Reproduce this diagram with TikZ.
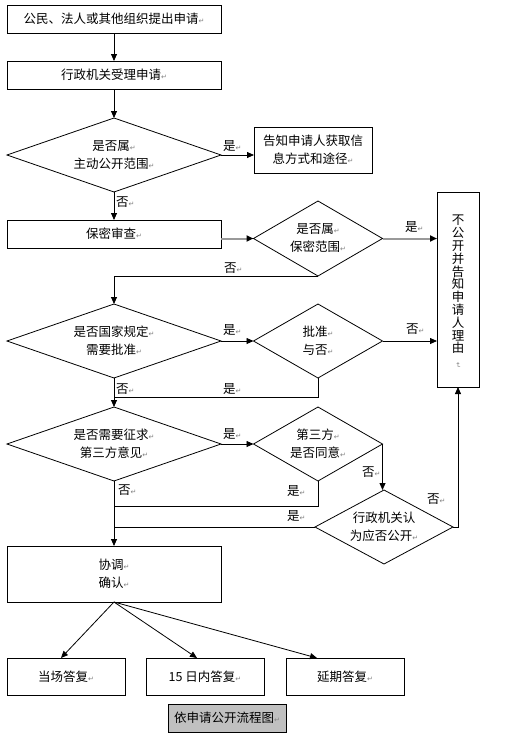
\documentclass[tikz,border=0pt]{standalone}
\usepackage{fontspec}
\setmainfont{Noto Sans CJK SC}
\newfontfamily\djv{DejaVu Sans}
\usetikzlibrary{arrows.meta,shapes.geometric,calc}
\definecolor{capgray}{RGB}{192,192,192}
\newcommand\pmk{{\djv\fontsize{7}{7}\selectfont\textcolor{gray}{↵}}}
\begin{document}
\begin{tikzpicture}[x=1pt,y=-1pt,
  every node/.style={font=\fontsize{12.5}{18}\selectfont, inner sep=0pt, outer sep=0pt},
  box/.style={draw, line width=0.8pt, rectangle, align=center},
  dia/.style={draw, line width=0.8pt, diamond, align=center},
  lbl/.style={anchor=west},
  ln/.style={line width=0.8pt},
  arr/.style={line width=0.8pt, -{Triangle[length=7pt,width=6pt]}},
  garr/.style={line width=2pt, draw=gray!80, -{Triangle[length=7pt,width=6pt,color=black]}}]
\useasboundingbox (0,0) rectangle (509,737);

% boxes
\node[box, minimum width=214pt, minimum height=28pt] (b1) at (114,19) {公民、法人或其他组织提出申请\pmk};
\node[box, minimum width=214pt, minimum height=28pt] (b2) at (114,75) {行政机关受理申请\pmk};
\node[dia, minimum width=214pt, minimum height=74pt, aspect=2.9] (d1) at (114,155) {是否属\pmk\\主动公开范围\pmk};
\node[box, minimum width=118pt, minimum height=46pt] (inf) at (313,150) {告知申请人获取信\\息方式和途径\pmk};
\node[box, minimum width=214pt, minimum height=28pt] (b3) at (114,234) {保密审查\pmk};
\node[dia, minimum width=129pt, minimum height=75pt, aspect=1.74] (d2) at (318,238.5) {是否属\pmk\\保密范围\pmk};
\node[box, minimum width=42pt, minimum height=195pt] (rb) at (458,289.5) {};
\node[font=\fontsize{12.5}{12.8}\selectfont, align=center] (rbt) at (458,292)
  {不\\公\\开\\并\\告\\知\\申\\请\\人\\理\\由\\[-3pt]\rotatebox{-90}{\pmk}};
\node[dia, minimum width=214pt, minimum height=74pt, aspect=2.9] (d3) at (114,341) {是否国家规定\pmk\\需要批准\pmk};
\node[dia, minimum width=129pt, minimum height=74pt, aspect=1.74] (d4) at (318,341) {批准\pmk\\与否\pmk};
\node[dia, minimum width=214pt, minimum height=74pt, aspect=2.9] (d5) at (114,444) {是否需要征求\pmk\\第三方意见\pmk};
\node[dia, minimum width=129pt, minimum height=74pt, aspect=1.74] (d6) at (318,444) {第三方\pmk\\是否同意\pmk};
\node[dia, minimum width=138pt, minimum height=74pt, aspect=1.86] (d7) at (384,527) {行政机关认\\为应否公开\pmk};
\node[box, minimum width=214pt, minimum height=56pt] (b4) at (114,574) {协调\pmk\\确认\pmk};
\node[box, minimum width=118pt, minimum height=37pt] (r1) at (66,676.5) {当场答复\pmk};
\node[box, minimum width=118pt, minimum height=37pt] (r2) at (205,676.5) {15 日内答复\pmk};
\node[box, minimum width=118pt, minimum height=37pt] (r3) at (345,676.5) {延期答复\pmk};
\node[box, fill=capgray, minimum width=118pt, minimum height=28pt] (cap) at (227,718) {依申请公开流程图\pmk};

% junction points
\coordinate (j1) at (114,397);
\coordinate (j2) at (114,506);
\coordinate (j3) at (114,527);

% connectors
\draw[arr] (b1.south) -- (b2.north);
\draw[arr] (b2.south) -- (d1.north);
\draw[arr] (d1.east) -- (d1.east -| inf.west);
\draw[arr] (d1.south) -- (b3.north);
\draw[garr] (b3.east |- d2.west) -- (d2.west);
\draw[garr] (d2.east) -- (d2.east -| rb.west);
\draw[arr] (d2.south) -| (d3.north);
\draw[arr] (d3.east) -- (d4.west);
\draw[arr] (d4.east) -- (d4.east -| rb.west);
\draw[arr] (d3.south) -- (d5.north);
\draw[ln] (d4.south) |- (j1);
\draw[arr] (d5.east) -- (d6.west);
\draw[arr] (d6.east) -- (d6.east |- d7.north);
\draw[ln] (d6.south) |- (j2);
\draw[ln] (d7.west) -- (j3);
\draw[arr] (d5.south) -- (b4.north);
\draw[arr] (d7.east) -| (rb.south);
\draw[arr] (b4.south) -- ([xshift=-5pt]r1.north);
\draw[arr] (b4.south) -- ([xshift=-8pt]r2.north);
\draw[arr] (b4.south) -- ([xshift=-28pt]r3.north);

% labels
\node[lbl] (l1) at (223,146) {是\pmk};
\node[lbl] (l2) at (116,202) {否\pmk};
\node[lbl] (l3) at (405,227) {是\pmk};
\node[lbl] (l4) at (224,268) {否\pmk};
\node[lbl] (l5) at (223,330) {是\pmk};
\node[lbl] (l6) at (406,329) {否\pmk};
\node[lbl] (l7) at (116,389) {否\pmk};
\node[lbl] (l8) at (223,389) {是\pmk};
\node[lbl] (l9) at (223,434) {是\pmk};
\node[lbl] (l10) at (362,472) {否\pmk};
\node[lbl] (l11) at (118,490) {否\pmk};
\node[lbl] (l12) at (287,491) {是\pmk};
\node[lbl] (l13) at (287,516) {是\pmk};
\node[lbl] (l14) at (427,499) {否\pmk};
\end{tikzpicture}
\end{document}
